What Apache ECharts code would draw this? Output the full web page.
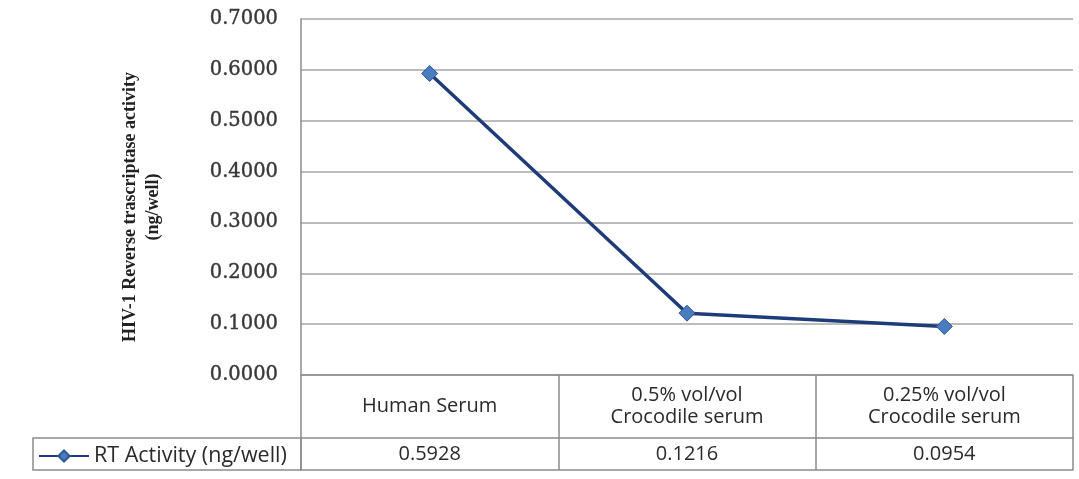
<!DOCTYPE html>
<html><head><meta charset="utf-8">
<script src="https://cdn.jsdelivr.net/npm/echarts@6/dist/echarts.min.js"></script>
<style>html,body{margin:0;padding:0;background:#fff}#c{width:1079px;height:479px}</style>
</head><body><div id="c"></div>
<script>
const categories = ['Human Serum', '0.5% vol/vol\nCrocodile serum', '0.25% vol/vol\nCrocodile serum'];
const seriesName = 'RT Activity (ng/well)';
const values = [0.5928, 0.1216, 0.0954];
const yTitle = 'HIV-1 Reverse trascriptase activity\n(ng/well)';

const lineCol = '#8c8c8c';
const tableFont = 'Open Sans';
const chart = echarts.init(document.getElementById('c'));
chart.setOption({
  animation: false,
  backgroundColor: '#fff',
  grid: {left: 301, right: 6, top: 19, bottom: 104, containLabel: false},
  legend: {
    left: 33, top: 440, itemWidth: 50, itemHeight: 14, itemGap: 4,
    textStyle: {fontFamily: tableFont, fontSize: 21.5, color: '#2a2a2a'},
    data: [seriesName]
  },
  xAxis: [
    {type: 'category', data: categories, position: 'bottom', boundaryGap: true,
     axisLine: {show: true, lineStyle: {color: lineCol, width: 1.5}},
     axisTick: {show: true, length: 63, lineStyle: {color: lineCol, width: 1.5}},
     axisLabel: {margin: 31, verticalAlign: 'middle', lineHeight: 22, fontFamily: tableFont, fontSize: 20, color: '#2a2a2a'}},
    {type: 'category', data: categories, position: 'bottom', offset: 63, boundaryGap: true,
     axisLine: {show: true, lineStyle: {color: lineCol, width: 1.5}},
     axisTick: {show: true, length: 32, lineStyle: {color: lineCol, width: 1.5}},
     axisLabel: {margin: 16, verticalAlign: 'middle', fontFamily: tableFont, fontSize: 20, color: '#2a2a2a',
       formatter: (v, i) => values[i].toFixed(4)}},
    {type: 'category', data: categories, position: 'bottom', offset: 95, boundaryGap: true,
     axisLine: {show: true, lineStyle: {color: lineCol, width: 1.5}},
     axisTick: {show: false}, axisLabel: {show: false}}
  ],
  yAxis: {
    type: 'value', min: 0, max: 0.7, interval: 0.1,
    name: yTitle, nameLocation: 'middle', nameGap: 136, nameRotate: 90,
    nameTextStyle: {fontFamily: 'Liberation Serif', fontWeight: 'bold', fontSize: 18, color: '#222', lineHeight: 23, align: 'center', padding: [0, 20, 0, 0]},
    axisLine: {show: true, lineStyle: {color: lineCol, width: 1.5}},
    axisTick: {show: false},
    splitLine: {lineStyle: {color: '#a6a6a6', width: 1.5}},
    axisLabel: {margin: 23, fontFamily: 'DejaVu Serif', fontSize: 19.5, color: '#383838',
      textBorderColor: '#383838', textBorderWidth: 0.4,
      formatter: v => v.toFixed(4)}
  },
  graphic: [
    {type: 'rect', shape: {x: 33, y: 438, width: 268, height: 32}, style: {fill: 'none', stroke: lineCol, lineWidth: 1.5}, z: 1}
  ],
  series: [{
    name: seriesName, type: 'line', data: values, xAxisIndex: 0,
    symbol: 'diamond', symbolSize: 16,
    lineStyle: {color: '#1f3c7a', width: 3.5},
    itemStyle: {color: '#4a7dbf', borderColor: '#2a5590', borderWidth: 1}
  }]
});
</script></body></html>
